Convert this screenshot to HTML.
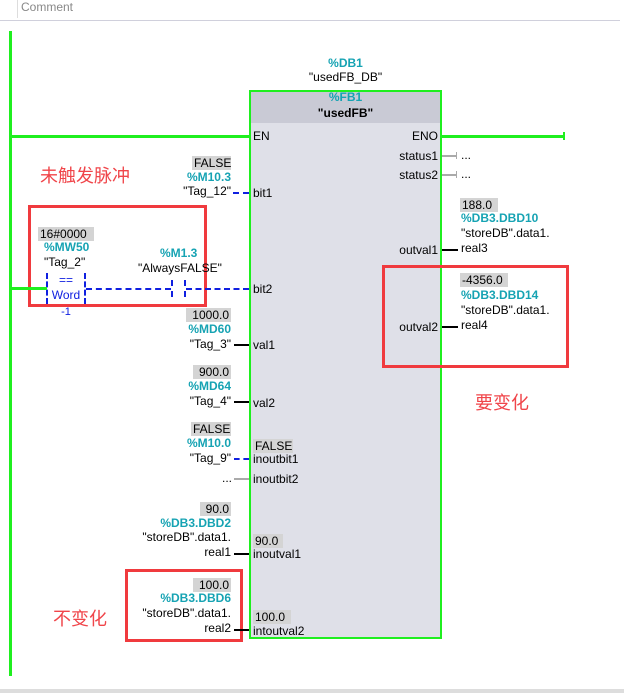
<!DOCTYPE html>
<html><head><meta charset="utf-8"><style>
*{margin:0;padding:0;box-sizing:border-box}
body{width:624px;height:693px;background:#fff;position:relative;overflow:hidden;font-family:"Liberation Sans","Noto Sans CJK SC",sans-serif;font-size:12px;color:#000}
.a{position:absolute;white-space:nowrap;line-height:14px}
.r{text-align:right}
.t{color:#16a3b3;font-weight:bold}
.g{background:#d4d4d4;padding:0 2px}
.l{position:absolute}
.cn{position:absolute;color:#f0454a;font-size:18px;font-family:"Liberation Sans","Noto Sans CJK SC",sans-serif;line-height:20px}
.rb{position:absolute;border:3px solid #f03a3e}
.pin{position:absolute;font-size:12px;line-height:14px}
</style></head><body>
<div class="l" style="left:0;top:20px;width:620px;height:1px;background:#d0d0dc"></div>
<div class="l" style="left:17px;top:0;width:1px;height:18px;background:#ddd"></div>
<div class="a" style="left:21px;top:0;color:#888">Comment</div>

<div class="l" style="left:9px;top:31px;width:3px;height:645px;background:#1fef1f"></div>
<div class="l" style="left:0;top:689px;width:624px;height:4px;background:#ddd"></div>

<!-- block -->
<div class="l" style="left:249px;top:90px;width:193px;height:549px;border:2px solid #1fef1f;background:#dfe0e8"></div>
<div class="l" style="left:251px;top:92px;width:189px;height:31px;background:#c9cad5"></div>
<div class="a t" style="left:249px;width:193px;top:90px;text-align:center">%FB1</div>
<div class="a" style="left:249px;width:193px;top:106px;text-align:center;font-weight:bold">"usedFB"</div>
<div class="a t" style="left:249px;width:193px;top:56px;text-align:center">%DB1</div>
<div class="a" style="left:249px;width:193px;top:70px;text-align:center">"usedFB_DB"</div>

<!-- EN/ENO -->
<div class="l" style="left:10px;top:135px;width:240px;height:3px;background:#1fef1f"></div>
<div class="l" style="left:442px;top:135px;width:123px;height:3px;background:#1fef1f"></div>
<div class="l" style="left:563px;top:132px;width:2px;height:8px;background:#1fef1f"></div>
<div class="pin" style="left:253px;top:129px">EN</div>
<div class="pin r" style="left:380px;width:58px;top:129px">ENO</div>
<div class="pin r" style="left:380px;width:58px;top:149px">status1</div>
<div class="pin r" style="left:380px;width:58px;top:168px">status2</div>
<div class="l" style="left:442px;top:155px;width:15px;height:2px;background:#aaa"></div>
<div class="l" style="left:456px;top:152px;width:1px;height:7px;background:#aaa"></div>
<div class="a" style="left:461px;top:148px">...</div>
<div class="l" style="left:442px;top:174px;width:15px;height:2px;background:#aaa"></div>
<div class="l" style="left:456px;top:171px;width:1px;height:7px;background:#aaa"></div>
<div class="a" style="left:461px;top:167px">...</div>

<!-- left pins -->
<div class="pin" style="left:253px;top:186px">bit1</div>
<div class="pin" style="left:253px;top:282px">bit2</div>
<div class="pin" style="left:253px;top:338px">val1</div>
<div class="pin" style="left:253px;top:396px">val2</div>
<div class="a g" style="left:253px;top:439px;width:40px">FALSE</div>
<div class="pin" style="left:253px;top:452px">inoutbit1</div>
<div class="pin" style="left:253px;top:472px">inoutbit2</div>
<div class="a g" style="left:253px;top:534px;width:30px">90.0</div>
<div class="pin" style="left:253px;top:547px">inoutval1</div>
<div class="a g" style="left:253px;top:610px;width:38px">100.0</div>
<div class="pin" style="left:253px;top:624px">intoutval2</div>
<div class="pin r" style="left:380px;width:58px;top:243px">outval1</div>
<div class="pin r" style="left:380px;width:58px;top:320px">outval2</div>

<!-- bit1 -->
<div class="a g r" style="left:192px;top:156px;width:39px">FALSE</div>
<div class="a t r" style="left:150px;width:81px;top:170px">%M10.3</div>
<div class="a r" style="left:150px;width:81px;top:184px">"Tag_12"</div>
<div class="l" style="left:233px;top:192px;width:16px;border-top:2px dashed #1020e0"></div>

<div class="cn" style="left:40px;top:166px">未触发脉冲</div>

<!-- compare -->
<div class="rb" style="left:28px;top:205px;width:179px;height:102px"></div>
<div class="a g" style="left:38px;top:227px;width:56px">16#0000</div>
<div class="a t" style="left:44px;top:240px">%MW50</div>
<div class="a" style="left:44px;top:255px">"Tag_2"</div>
<div class="l" style="left:46px;top:273px;height:31px;border-left:2px dashed #1020e0"></div>
<div class="l" style="left:84px;top:273px;height:31px;border-left:2px dashed #1020e0"></div>
<div class="a" style="left:47px;width:38px;top:273px;text-align:center;color:#1020e0">==</div>
<div class="a" style="left:47px;width:38px;top:288px;text-align:center;color:#1020e0">Word</div>
<div class="a" style="left:47px;width:38px;top:305px;text-align:center;color:#1020e0;font-size:11px">-1</div>
<div class="l" style="left:10px;top:287px;width:37px;height:3px;background:#1fef1f"></div>
<div class="l" style="left:86px;top:288px;width:85px;border-top:2px dashed #1020e0"></div>
<div class="l" style="left:171px;top:280px;height:17px;border-left:2px dashed #1020e0"></div>
<div class="l" style="left:184px;top:280px;height:17px;border-left:2px dashed #1020e0"></div>
<div class="l" style="left:186px;top:288px;width:63px;border-top:2px dashed #1020e0"></div>
<div class="a t" style="left:160px;top:246px">%M1.3</div>
<div class="a" style="left:138px;top:261px">"AlwaysFALSE"</div>

<!-- val1 -->
<div class="a g r" style="left:186px;top:308px;width:45px">1000.0</div>
<div class="a t r" style="left:150px;width:81px;top:322px">%MD60</div>
<div class="a r" style="left:150px;width:81px;top:337px">"Tag_3"</div>
<div class="l" style="left:234px;top:344px;width:15px;height:2px;background:#000"></div>
<!-- val2 -->
<div class="a g r" style="left:193px;top:365px;width:38px">900.0</div>
<div class="a t r" style="left:150px;width:81px;top:379px">%MD64</div>
<div class="a r" style="left:150px;width:81px;top:394px">"Tag_4"</div>
<div class="l" style="left:234px;top:401px;width:15px;height:2px;background:#000"></div>
<!-- inoutbit1 -->
<div class="a g r" style="left:191px;top:422px;width:40px">FALSE</div>
<div class="a t r" style="left:150px;width:81px;top:436px">%M10.0</div>
<div class="a r" style="left:150px;width:81px;top:451px">"Tag_9"</div>
<div class="l" style="left:234px;top:458px;width:15px;border-top:2px dashed #1020e0"></div>
<div class="a" style="left:222px;top:471px">...</div>
<div class="l" style="left:234px;top:478px;width:15px;height:2px;background:#aaa"></div>
<!-- inoutval1 -->
<div class="a g r" style="left:200px;top:502px;width:31px">90.0</div>
<div class="a t r" style="left:130px;width:101px;top:516px">%DB3.DBD2</div>
<div class="a r" style="left:110px;width:121px;top:530px">"storeDB".data1.</div>
<div class="a r" style="left:150px;width:81px;top:545px">real1</div>
<div class="l" style="left:234px;top:553px;width:15px;height:2px;background:#000"></div>
<!-- intoutval2 -->
<div class="rb" style="left:125px;top:569px;width:118px;height:73px"></div>
<div class="a g r" style="left:193px;top:578px;width:38px">100.0</div>
<div class="a t r" style="left:130px;width:101px;top:591px">%DB3.DBD6</div>
<div class="a r" style="left:110px;width:121px;top:606px">"storeDB".data1.</div>
<div class="a r" style="left:150px;width:81px;top:621px">real2</div>
<div class="l" style="left:234px;top:629px;width:15px;height:2px;background:#000"></div>
<div class="cn" style="left:53px;top:609px">不变化</div>

<!-- outputs -->
<div class="a g" style="left:460px;top:198px;width:38px">188.0</div>
<div class="a t" style="left:461px;top:211px">%DB3.DBD10</div>
<div class="a" style="left:461px;top:226px">"storeDB".data1.</div>
<div class="a" style="left:461px;top:241px">real3</div>
<div class="l" style="left:442px;top:249px;width:16px;height:2px;background:#000"></div>

<div class="rb" style="left:382px;top:265px;width:187px;height:103px"></div>
<div class="a g" style="left:460px;top:273px;width:48px">-4356.0</div>
<div class="a t" style="left:461px;top:288px">%DB3.DBD14</div>
<div class="a" style="left:461px;top:303px">"storeDB".data1.</div>
<div class="a" style="left:461px;top:318px">real4</div>
<div class="l" style="left:442px;top:326px;width:16px;height:2px;background:#000"></div>

<div class="cn" style="left:475px;top:393px">要变化</div>
</body></html>
